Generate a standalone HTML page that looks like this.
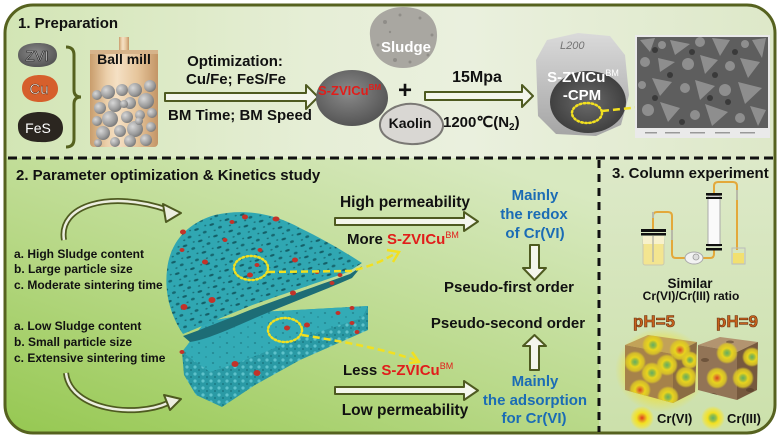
<!DOCTYPE html>
<html><head><meta charset="utf-8">
<style>
html,body{margin:0;padding:0;background:#fff;}
svg{display:block;}
text{font-family:"Liberation Sans",Arial,sans-serif;font-weight:bold;}
</style></head><body>
<svg width="779" height="439" viewBox="0 0 779 439" xmlns="http://www.w3.org/2000/svg">
<defs>
  <clipPath id="frame"><rect x="5" y="5" width="770" height="428" rx="28"/></clipPath>
  <linearGradient id="g1" x1="0" y1="0" x2="1" y2="0">
    <stop offset="0" stop-color="#d2e5b4"/><stop offset="0.4" stop-color="#e6eed6"/>
    <stop offset="0.6" stop-color="#eaf0de"/><stop offset="1" stop-color="#dde8c8"/>
  </linearGradient>
  <linearGradient id="g2" x1="0.05" y1="1" x2="0.8" y2="0">
    <stop offset="0" stop-color="#96c852"/><stop offset="0.45" stop-color="#b7d886"/>
    <stop offset="1" stop-color="#d8e9c0"/>
  </linearGradient>
  <linearGradient id="g3" x1="0" y1="0" x2="0" y2="1">
    <stop offset="0" stop-color="#dde9c9"/><stop offset="1" stop-color="#cbe0aa"/>
  </linearGradient>
  <linearGradient id="millG" x1="0" y1="0" x2="1" y2="0">
    <stop offset="0" stop-color="#c99d6c"/><stop offset="0.25" stop-color="#ecd0ab"/>
    <stop offset="0.4" stop-color="#f5e0c4"/><stop offset="0.7" stop-color="#e6c59b"/>
    <stop offset="1" stop-color="#c39566"/>
  </linearGradient>
  <radialGradient id="ballG" cx="0.35" cy="0.35" r="0.7">
    <stop offset="0" stop-color="#d8d8d8"/><stop offset="0.7" stop-color="#9a9a9a"/>
    <stop offset="1" stop-color="#777"/>
  </radialGradient>
  <radialGradient id="blobGray" cx="0.45" cy="0.4" r="0.6">
    <stop offset="0" stop-color="#8a8a8a"/><stop offset="1" stop-color="#555"/>
  </radialGradient>
  <linearGradient id="cpmG" x1="0" y1="0" x2="0" y2="1">
    <stop offset="0" stop-color="#dadada"/><stop offset="1" stop-color="#a5a5a5"/>
  </linearGradient>
  <radialGradient id="cpmIn" cx="0.5" cy="0.5" r="0.55">
    <stop offset="0" stop-color="#6a6a6a"/><stop offset="1" stop-color="#3c3c3c"/>
  </radialGradient>
  <radialGradient id="glowR">
    <stop offset="0" stop-color="#e03a1c"/><stop offset="0.25" stop-color="#e89a22"/>
    <stop offset="0.45" stop-color="#f2e020"/><stop offset="0.75" stop-color="#f2e43a" stop-opacity="0.7"/>
    <stop offset="1" stop-color="#f2e43a" stop-opacity="0"/>
  </radialGradient>
  <radialGradient id="glowG">
    <stop offset="0" stop-color="#5fae6a"/><stop offset="0.25" stop-color="#98bf45"/>
    <stop offset="0.45" stop-color="#f2e020"/><stop offset="0.75" stop-color="#f2e43a" stop-opacity="0.7"/>
    <stop offset="1" stop-color="#f2e43a" stop-opacity="0"/>
  </radialGradient>
  <radialGradient id="cubeG">
    <stop offset="0" stop-color="#62ad62"/><stop offset="0.25" stop-color="#9cbc40"/>
    <stop offset="0.45" stop-color="#e8d41e"/><stop offset="0.8" stop-color="#dcc626" stop-opacity="0.85"/>
    <stop offset="1" stop-color="#dcc626" stop-opacity="0"/>
  </radialGradient>
  <radialGradient id="cubeR">
    <stop offset="0" stop-color="#d8421c"/><stop offset="0.25" stop-color="#e0922a"/>
    <stop offset="0.45" stop-color="#e8d41e"/><stop offset="0.8" stop-color="#dcc626" stop-opacity="0.85"/>
    <stop offset="1" stop-color="#dcc626" stop-opacity="0"/>
  </radialGradient>
  <radialGradient id="halo">
    <stop offset="0" stop-color="#f0e030" stop-opacity="0.9"/><stop offset="0.7" stop-color="#f0e030" stop-opacity="0.6"/>
    <stop offset="1" stop-color="#f0e030" stop-opacity="0"/>
  </radialGradient>
  <pattern id="pores" width="16" height="12" patternUnits="userSpaceOnUse" patternTransform="rotate(-18)">
    <rect width="16" height="12" fill="#30a7b2"/>
    <ellipse cx="4" cy="3" rx="2.4" ry="1.1" fill="#145f68"/>
    <ellipse cx="11" cy="8" rx="2" ry="1.3" fill="#176871"/>
    <ellipse cx="13.5" cy="2" rx="1.1" ry="0.7" fill="#1a6d76"/>
    <ellipse cx="5" cy="9.5" rx="1.2" ry="0.7" fill="#1a6d76"/>
  </pattern>
  <pattern id="slab" width="14" height="10" patternUnits="userSpaceOnUse">
    <rect width="14" height="10" fill="#33abb6"/>
    <ellipse cx="3" cy="3" rx="1.2" ry="0.6" fill="#1d7983"/>
    <ellipse cx="10" cy="7" rx="0.9" ry="0.5" fill="#1d7983"/>
  </pattern>
  <pattern id="front" width="8" height="7" patternUnits="userSpaceOnUse">
    <rect width="8" height="7" fill="#2a9aa5"/>
    <circle cx="3" cy="3" r="1.6" fill="#5ec2cb"/>
    <circle cx="7" cy="6" r="1" fill="#1b7a84"/>
  </pattern>
  <clipPath id="cubeL"><polygon points="625,345 648,335 697,342 695,392 673,403 625,390"/></clipPath>
  <clipPath id="cubeRc"><polygon points="698,345 720,337 758,342 757,390 737,400 698,390"/></clipPath>
</defs>

<!-- Backgrounds -->
<g clip-path="url(#frame)">
  <rect x="0" y="0" width="779" height="158" fill="url(#g1)"/>
  <rect x="0" y="158" width="599" height="281" fill="url(#g2)"/>
  <rect x="599" y="158" width="180" height="281" fill="url(#g3)"/>
</g>
<rect x="5" y="5" width="770" height="428" rx="28" fill="none" stroke="#56621f" stroke-width="3"/>

<!-- dashed separators -->
<line x1="8" y1="158" x2="776" y2="158" stroke="#111" stroke-width="3" stroke-dasharray="9 5"/>
<line x1="599" y1="160" x2="599" y2="432" stroke="#111" stroke-width="3" stroke-dasharray="8 6"/>

<!-- ============ Section 1 ============ -->
<text x="18" y="28" font-size="15" fill="#111">1. Preparation</text>

<!-- raw material blobs -->
<path d="M18,55 C18,46 28,43 38,43 C50,43 57,47 57,55 C57,63 49,67 37,67 C26,67 18,63 18,55 Z" fill="url(#blobGray)"/>
<text x="37" y="61" font-size="15" text-anchor="middle" fill="#cfcfcf" stroke="#222" stroke-width="0.6" style="font-weight:normal">ZVI</text>
<path d="M22,88 C22,79 30,75 40,75 C52,75 58,81 58,89 C58,97 50,102 40,102 C29,102 22,97 22,88 Z" fill="#d65f2c"/>
<text x="39" y="94" font-size="15" text-anchor="middle" fill="#fff" stroke="#5a2a10" stroke-width="0.5" style="font-weight:normal">Cu</text>
<path d="M18,127 C17,117 27,112 40,112 C55,112 63,118 63,128 C63,138 54,143 40,142 C27,142 18,137 18,127 Z" fill="#2b2620"/>
<text x="38" y="133" font-size="14" text-anchor="middle" fill="#fff" style="font-weight:normal">FeS</text>

<!-- bracket -->
<path d="M66,47 Q74,47 74,55 L74,90 Q74,97 81,97 Q74,97 74,104 L74,139 Q74,147 66,147" fill="none" stroke="#56621f" stroke-width="3"/>

<!-- ball mill -->
<rect x="119" y="37" width="10" height="14" fill="url(#millG)"/>
<rect x="90" y="50" width="68" height="97" rx="4" fill="url(#millG)"/>
<rect x="90" y="50" width="68" height="4" fill="#d6b38a"/>
<text x="124" y="64" font-size="14" text-anchor="middle" fill="#111">Ball mill</text>
<g fill="url(#ballG)">
  <circle cx="97" cy="95" r="5"/><circle cx="108" cy="92" r="7"/><circle cx="122" cy="90" r="6"/>
  <circle cx="135" cy="90" r="7"/><circle cx="150" cy="86" r="6"/><circle cx="100" cy="108" r="6"/>
  <circle cx="115" cy="105" r="7"/><circle cx="130" cy="103" r="6"/><circle cx="146" cy="101" r="8"/>
  <circle cx="97" cy="121" r="5"/><circle cx="110" cy="119" r="8"/><circle cx="127" cy="117" r="6"/>
  <circle cx="140" cy="115" r="5"/><circle cx="152" cy="113" r="5"/><circle cx="103" cy="133" r="7"/>
  <circle cx="120" cy="131" r="6"/><circle cx="135" cy="129" r="8"/><circle cx="151" cy="127" r="5"/>
  <circle cx="98" cy="143" r="4"/><circle cx="115" cy="142" r="5"/><circle cx="130" cy="141" r="6"/>
  <circle cx="146" cy="140" r="6"/><circle cx="124" cy="104" r="4"/><circle cx="139" cy="121" r="4"/>
</g>

<!-- arrow 1 -->
<polygon points="165,93 306,93 306,85 318,97 306,109 306,101 165,101" fill="#f4f6ec" stroke="#4e5a20" stroke-width="2" stroke-linejoin="round"/>
<text x="235" y="66" font-size="15" text-anchor="middle" fill="#111">Optimization:</text>
<text x="236" y="84" font-size="15" text-anchor="middle" fill="#111">Cu/Fe; FeS/Fe</text>
<text x="240" y="120" font-size="15" text-anchor="middle" fill="#111">BM Time; BM Speed</text>

<!-- S-ZVICu blob -->
<ellipse cx="352" cy="98" rx="36" ry="28" fill="url(#blobGray)"/>
<text x="318" y="95" font-size="13" fill="#e11d1a">S-ZVICu<tspan font-size="8" dy="-5">BM</tspan></text>

<!-- sludge & kaolin -->
<path d="M370,36 C368,18 385,7 403,7 C424,7 438,18 437,37 C436,56 422,68 403,68 C384,68 371,55 370,36 Z" fill="#a9a7a1"/>
<g fill="#85837e" opacity="0.7">
  <circle cx="385" cy="22" r="2"/><circle cx="420" cy="18" r="1.5"/><circle cx="395" cy="60" r="2"/>
  <circle cx="428" cy="55" r="1.5"/><circle cx="378" cy="45" r="1.5"/><circle cx="410" cy="62" r="1.5"/>
  <circle cx="400" cy="15" r="1.5"/><circle cx="432" cy="35" r="1.5"/><circle cx="390" cy="32" r="1.2"/>
</g>
<text x="406" y="52" font-size="15" text-anchor="middle" fill="#fff">Sludge</text>
<text x="405" y="98" font-size="24" text-anchor="middle" fill="#111">+</text>
<path d="M380,126 C379,115 392,106 406,104 C422,102 441,112 443,124 C444,136 428,145 410,144 C394,143 381,137 380,126 Z" fill="#d9d7d3" stroke="#7a7874" stroke-width="2"/>
<text x="410" y="128" font-size="14" text-anchor="middle" fill="#111">Kaolin</text>

<!-- arrow 2 -->
<polygon points="425,92 522,92 522,85 533,96 522,107 522,100 425,100" fill="#f4f6ec" stroke="#4e5a20" stroke-width="2" stroke-linejoin="round"/>
<text x="477" y="82" font-size="16" text-anchor="middle" fill="#111">15Mpa</text>
<text x="443" y="127" font-size="15" fill="#111">1200℃(N<tspan font-size="10" dy="3">2</tspan><tspan dy="-3">)</tspan></text>

<!-- CPM disc -->
<polygon points="547,40 578,33 610,36 625,55 629,95 621,125 596,136 556,134 538,116 536,60" fill="url(#cpmG)"/>
<ellipse cx="588" cy="102" rx="38" ry="31" fill="url(#cpmIn)"/>
<text x="560" y="49" font-size="11" fill="#333" opacity="0.6" style="font-weight:normal;font-style:italic">L200</text>
<text x="583" y="82" font-size="15" text-anchor="middle" fill="#fff">S-ZVICu<tspan font-size="9" dy="-6" style="font-weight:normal">BM</tspan></text>
<text x="582" y="100" font-size="15" text-anchor="middle" fill="#fff">-CPM</text>
<ellipse cx="587" cy="113" rx="15" ry="10" fill="none" stroke="#f2e020" stroke-width="2.5" stroke-dasharray="1.5 2.5" stroke-linecap="round"/>
<path d="M602,111 L690,102" fill="none" stroke="#f2e020" stroke-width="2.5" stroke-dasharray="7 4"/>
<polyline points="686,95 696,101 688,108" fill="none" stroke="#f2e020" stroke-width="2.5"/>

<!-- SEM image -->
<rect x="635" y="35" width="135" height="103" fill="#eaeaea"/>
<rect x="637" y="37" width="131" height="91" fill="#5e5e5e"/>
<g fill="#8e8e8e">
  <polygon points="640,40 655,38 650,52"/><circle cx="662" cy="45" r="4"/><polygon points="670,40 690,44 675,55"/>
  <circle cx="700" cy="42" r="5"/><polygon points="712,38 730,40 720,56"/><circle cx="745" cy="44" r="4"/>
  <polygon points="752,40 766,38 762,58"/><circle cx="645" cy="62" r="5"/><polygon points="658,58 675,62 660,72"/>
  <circle cx="688" cy="64" r="6"/><polygon points="700,55 718,60 705,74"/><circle cx="730" cy="66" r="5"/>
  <polygon points="740,58 760,62 748,78"/><circle cx="642" cy="85" r="4"/><polygon points="652,78 672,82 660,96"/>
  <circle cx="685" cy="88" r="5"/><polygon points="695,80 715,86 700,100"/><circle cx="725" cy="90" r="6"/>
  <polygon points="738,82 762,88 745,104"/><circle cx="648" cy="110" r="6"/><polygon points="660,102 680,108 668,122"/>
  <circle cx="695" cy="115" r="5"/><polygon points="705,104 728,112 712,126"/><circle cx="740" cy="118" r="5"/>
  <polygon points="750,106 766,110 758,126"/>
</g>
<g fill="#3a3a3a">
  <circle cx="655" cy="50" r="3"/><circle cx="692" cy="52" r="3"/><circle cx="735" cy="52" r="3"/>
  <circle cx="670" cy="75" r="3"/><circle cx="715" cy="75" r="3"/><circle cx="655" cy="98" r="3"/>
  <circle cx="710" cy="98" r="3"/><circle cx="682" cy="122" r="3"/><circle cx="728" cy="102" r="3"/>
</g>
<g fill="#999"><rect x="645" y="132" width="12" height="1.5"/><rect x="665" y="132" width="15" height="1.5"/><rect x="690" y="132" width="15" height="1.5"/><rect x="715" y="132" width="15" height="1.5"/><rect x="740" y="132" width="15" height="1.5"/></g>

<!-- ============ Section 2 ============ -->
<text x="16" y="180" font-size="15" fill="#111">2. Parameter optimization &amp; Kinetics study</text>

<!-- curved arrows -->
<path d="M64,240 C58,205 110,190 168,210" fill="none" stroke="#4e5a20" stroke-width="6"/>
<path d="M64,240 C58,205 110,190 168,210" fill="none" stroke="#eceee0" stroke-width="2.5"/>
<polygon points="181,213 163,204 166,222" fill="#eceee0" stroke="#4e5a20" stroke-width="2" stroke-linejoin="round"/>
<path d="M66,373 C70,410 135,418 168,403" fill="none" stroke="#4e5a20" stroke-width="6"/>
<path d="M66,373 C70,410 135,418 168,403" fill="none" stroke="#eceee0" stroke-width="2.5"/>
<polygon points="181,399 164,395 170,410" fill="#eceee0" stroke="#4e5a20" stroke-width="2" stroke-linejoin="round"/>

<g font-size="12" fill="#111">
  <text x="14" y="258">a. High Sludge content</text>
  <text x="14" y="273">b. Large particle size</text>
  <text x="14" y="289">c. Moderate sintering time</text>
  <text x="14" y="330">a. Low Sludge content</text>
  <text x="14" y="346">b. Small particle size</text>
  <text x="14" y="362">c. Extensive sintering time</text>
</g>

<!-- bottom slab -->
<path d="M182,352 L205,322 L260,312 L368,306 L368,330 L300,360 L255,385 L222,407 L196,395 L184,375 Z" fill="url(#front)"/>
<path d="M182,352 L205,322 L260,312 L368,306 L362,318 L300,338 L240,362 L210,372 Z" fill="url(#slab)"/>
<!-- top porous piece -->
<path d="M183,336 C200,330 225,320 250,310 C285,297 325,283 350,274 L362,266 L352,278 C320,292 285,305 255,318 C228,330 205,340 190,342 Z" fill="#1d6d76"/>
<path d="M183,334 C172,318 164,295 167,270 C170,240 190,222 215,215 C245,208 275,214 300,228 C325,240 348,254 362,263 L348,272 C320,282 280,295 250,306 C225,316 205,325 183,334 Z" fill="url(#pores)"/>
<g fill="#c2332a">
  <ellipse cx="245" cy="217" rx="3" ry="2.5"/><ellipse cx="276" cy="219" rx="3.5" ry="2.5"/><ellipse cx="232" cy="222" rx="2.5" ry="2"/>
  <ellipse cx="183" cy="232" rx="3" ry="2.5"/><ellipse cx="260" cy="250" rx="2.5" ry="2"/><ellipse cx="295" cy="260" rx="3" ry="2.5"/>
  <ellipse cx="205" cy="262" rx="3" ry="2.5"/><ellipse cx="250" cy="275" rx="3" ry="2.5"/><ellipse cx="257" cy="265" rx="2.5" ry="2"/>
  <ellipse cx="212" cy="300" rx="3.5" ry="3"/><ellipse cx="184" cy="307" rx="3.5" ry="3"/><ellipse cx="293" cy="293" rx="3" ry="2.5"/>
  <ellipse cx="332" cy="283" rx="2.5" ry="2"/><ellipse cx="340" cy="275" rx="2.5" ry="2"/><ellipse cx="317" cy="272" rx="2.5" ry="2"/>
  <ellipse cx="182" cy="250" rx="2.5" ry="2"/><ellipse cx="225" cy="240" rx="2.5" ry="2"/>
  <ellipse cx="287" cy="328" rx="3" ry="2.5"/><ellipse cx="307" cy="325" rx="3" ry="2.5"/><ellipse cx="338" cy="313" rx="2.5" ry="2"/>
  <ellipse cx="352" cy="308" rx="2.5" ry="2"/><ellipse cx="235" cy="364" rx="3.5" ry="3"/><ellipse cx="257" cy="373" rx="3.5" ry="3"/>
  <ellipse cx="357" cy="332" rx="2.5" ry="2"/><ellipse cx="352" cy="323" rx="2.5" ry="2"/><ellipse cx="182" cy="352" rx="2.5" ry="2"/>
</g>
<!-- yellow indicators -->
<ellipse cx="251" cy="268" rx="17" ry="12" fill="none" stroke="#f2e020" stroke-width="2.5" stroke-dasharray="1.5 2.5" stroke-linecap="round"/>
<path d="M268,272 L350,271 Q375,266 396,253" fill="none" stroke="#f2e020" stroke-width="2.5" stroke-dasharray="7 4"/>
<polyline points="387,250 399,252 393,262" fill="none" stroke="#f2e020" stroke-width="2.5"/>
<ellipse cx="285" cy="330" rx="17" ry="12" fill="none" stroke="#f2e020" stroke-width="2.5" stroke-dasharray="1.5 2.5" stroke-linecap="round"/>
<path d="M302,335 C340,341 390,350 417,361" fill="none" stroke="#f2e020" stroke-width="2.5" stroke-dasharray="7 4"/>
<polyline points="412,352 419,362 409,363" fill="none" stroke="#f2e020" stroke-width="2.5"/>

<!-- right side texts & arrows -->
<text x="405" y="207" font-size="15.5" text-anchor="middle" fill="#111">High  permeability</text>
<polygon points="335,218 464,218 464,212 478,221.5 464,231 464,225 335,225" fill="#f4f6ec" stroke="#4e5a20" stroke-width="2" stroke-linejoin="round"/>
<text x="347" y="244" font-size="15" fill="#111">More <tspan fill="#e11d1a">S-ZVICu</tspan><tspan fill="#e11d1a" font-size="9" dy="-6" style="font-weight:normal">BM</tspan></text>

<g font-size="15" fill="#1b6cb5" text-anchor="middle">
  <text x="535" y="200">Mainly</text>
  <text x="534" y="219">the redox</text>
  <text x="535" y="238">of Cr(VI)</text>
  <text x="535" y="386">Mainly</text>
  <text x="535" y="405">the adsorption</text>
  <text x="534" y="423">for Cr(VI)</text>
</g>
<polygon points="530,245 539,245 539,268 546,268 534.5,280 523,268 530,268" fill="#f4f6ec" stroke="#4e5a20" stroke-width="2" stroke-linejoin="round"/>
<text x="509" y="292" font-size="15" text-anchor="middle" fill="#111">Pseudo-first order</text>
<text x="508" y="328" font-size="15" text-anchor="middle" fill="#111">Pseudo-second order</text>
<polygon points="534.5,335 546,346 539,346 539,370 530,370 530,346 523,346" fill="#f4f6ec" stroke="#4e5a20" stroke-width="2" stroke-linejoin="round"/>

<text x="343" y="375" font-size="15" fill="#111">Less <tspan fill="#e11d1a">S-ZVICu</tspan><tspan fill="#e11d1a" font-size="9" dy="-6" style="font-weight:normal">BM</tspan></text>
<polygon points="335,387 464,387 464,381 478,390.5 464,400 464,394 335,394" fill="#f4f6ec" stroke="#4e5a20" stroke-width="2" stroke-linejoin="round"/>
<text x="405" y="415" font-size="15.5" text-anchor="middle" fill="#111">Low permeability</text>

<!-- ============ Section 3 ============ -->
<text x="612" y="178" font-size="15" fill="#111">3. Column experiment</text>

<!-- apparatus -->
<path d="M653,232 L653,216 Q653,212 657,212 L668,212 Q672,212 672,216 L672,254 Q672,258 676,258 L686,258" fill="none" stroke="#e3a83a" stroke-width="2"/>
<path d="M702,258 L710,258 Q714,258 714,254 L714,250" fill="none" stroke="#e3a83a" stroke-width="2"/>
<path d="M714,193 L714,186 Q714,182 718,182 L733,182 Q737,182 737,186 L737,250" fill="none" stroke="#e3a83a" stroke-width="2"/>
<path d="M653,218 L653,212 M672,230 L672,240 M737,190 L737,200" stroke="#b8b8a8" stroke-width="2"/>
<rect x="643" y="238" width="21" height="27" rx="2" fill="#f3e590" stroke="#c8c8b0" stroke-width="1"/>
<rect x="643" y="236" width="21" height="8" fill="#f7f1cc"/>
<rect x="641" y="229" width="25" height="3" fill="#111"/>
<rect x="641" y="233" width="25" height="2.5" fill="#111"/>
<line x1="653" y1="236" x2="653" y2="262" stroke="#b8b8a8" stroke-width="1.5"/>
<ellipse cx="694" cy="258" rx="9" ry="6" fill="#f2f2f2" stroke="#aaa" stroke-width="1"/>
<circle cx="696" cy="257" r="3" fill="#ddd" stroke="#999" stroke-width="0.8"/>
<rect x="708" y="196" width="12" height="50" fill="#fafafa" stroke="#aaa" stroke-width="1"/>
<rect x="706" y="193" width="16" height="2.5" fill="#111"/><rect x="706" y="197" width="16" height="2" fill="#111"/>
<rect x="706" y="244" width="16" height="2" fill="#111"/><rect x="706" y="248" width="16" height="2.5" fill="#111"/>
<rect x="732" y="248" width="13" height="16" fill="none" stroke="#bbb" stroke-width="1"/>
<rect x="733" y="253" width="11" height="10.5" fill="#f2e070"/>

<text x="690" y="288" font-size="13.5" text-anchor="middle" fill="#111">Similar</text>
<text x="691" y="300" font-size="12" text-anchor="middle" fill="#111">Cr(VI)/Cr(III)  ratio</text>

<text x="654" y="327" font-size="17" text-anchor="middle" fill="#c8621c" stroke="#6a3010" stroke-width="0.6">pH=5</text>
<text x="737" y="327" font-size="17" text-anchor="middle" fill="#c8621c" stroke="#6a3010" stroke-width="0.6">pH=9</text>

<!-- left cube -->
<ellipse cx="661" cy="370" rx="46" ry="42" fill="url(#halo)"/>
<polygon points="625,345 648,335 697,342 673,354" fill="#c2a258"/>
<polygon points="625,345 673,354 673,403 625,390" fill="#a6824a"/>
<polygon points="673,354 697,342 695,392 673,403" fill="#8c6c42"/>
<g clip-path="url(#cubeL)">
  <circle cx="653" cy="345" r="11" fill="url(#cubeG)"/><circle cx="680" cy="350" r="11" fill="url(#cubeR)"/>
  <circle cx="635" cy="362" r="11" fill="url(#cubeG)"/><circle cx="652" cy="373" r="11" fill="url(#cubeG)"/>
  <circle cx="667" cy="365" r="11" fill="url(#cubeG)"/><circle cx="686" cy="377" r="11" fill="url(#cubeG)"/>
  <circle cx="640" cy="390" r="11" fill="url(#cubeR)"/><circle cx="668" cy="397" r="11" fill="url(#cubeG)"/>
  <circle cx="690" cy="360" r="9" fill="url(#cubeG)"/>
</g>
<!-- right cube -->
<polygon points="698,345 720,337 758,342 737,352" fill="#b29470"/>
<polygon points="698,345 737,352 737,400 698,390" fill="#927456"/>
<polygon points="737,352 758,342 757,390 737,400" fill="#76593e"/>
<g fill="#4a3522" opacity="0.5" clip-path="url(#cubeRc)">
  <ellipse cx="705" cy="360" rx="4" ry="2"/><ellipse cx="712" cy="395" rx="5" ry="2"/><ellipse cx="750" cy="390" rx="4" ry="2"/>
  <ellipse cx="730" cy="342" rx="4" ry="1.5"/>
</g>
<g clip-path="url(#cubeRc)">
  <circle cx="727" cy="353" r="11" fill="url(#cubeG)"/><circle cx="752" cy="357" r="10" fill="url(#cubeG)"/>
  <circle cx="717" cy="378" r="11" fill="url(#cubeR)"/><circle cx="743" cy="378" r="11" fill="url(#cubeG)"/>
</g>

<!-- legend -->
<circle cx="642" cy="418" r="12" fill="url(#glowR)"/>
<text x="657" y="423" font-size="13" fill="#111">Cr(VI)</text>
<circle cx="713" cy="418" r="12" fill="url(#glowG)"/>
<text x="727" y="423" font-size="13" fill="#111">Cr(III)</text>
</svg>
</body></html>
